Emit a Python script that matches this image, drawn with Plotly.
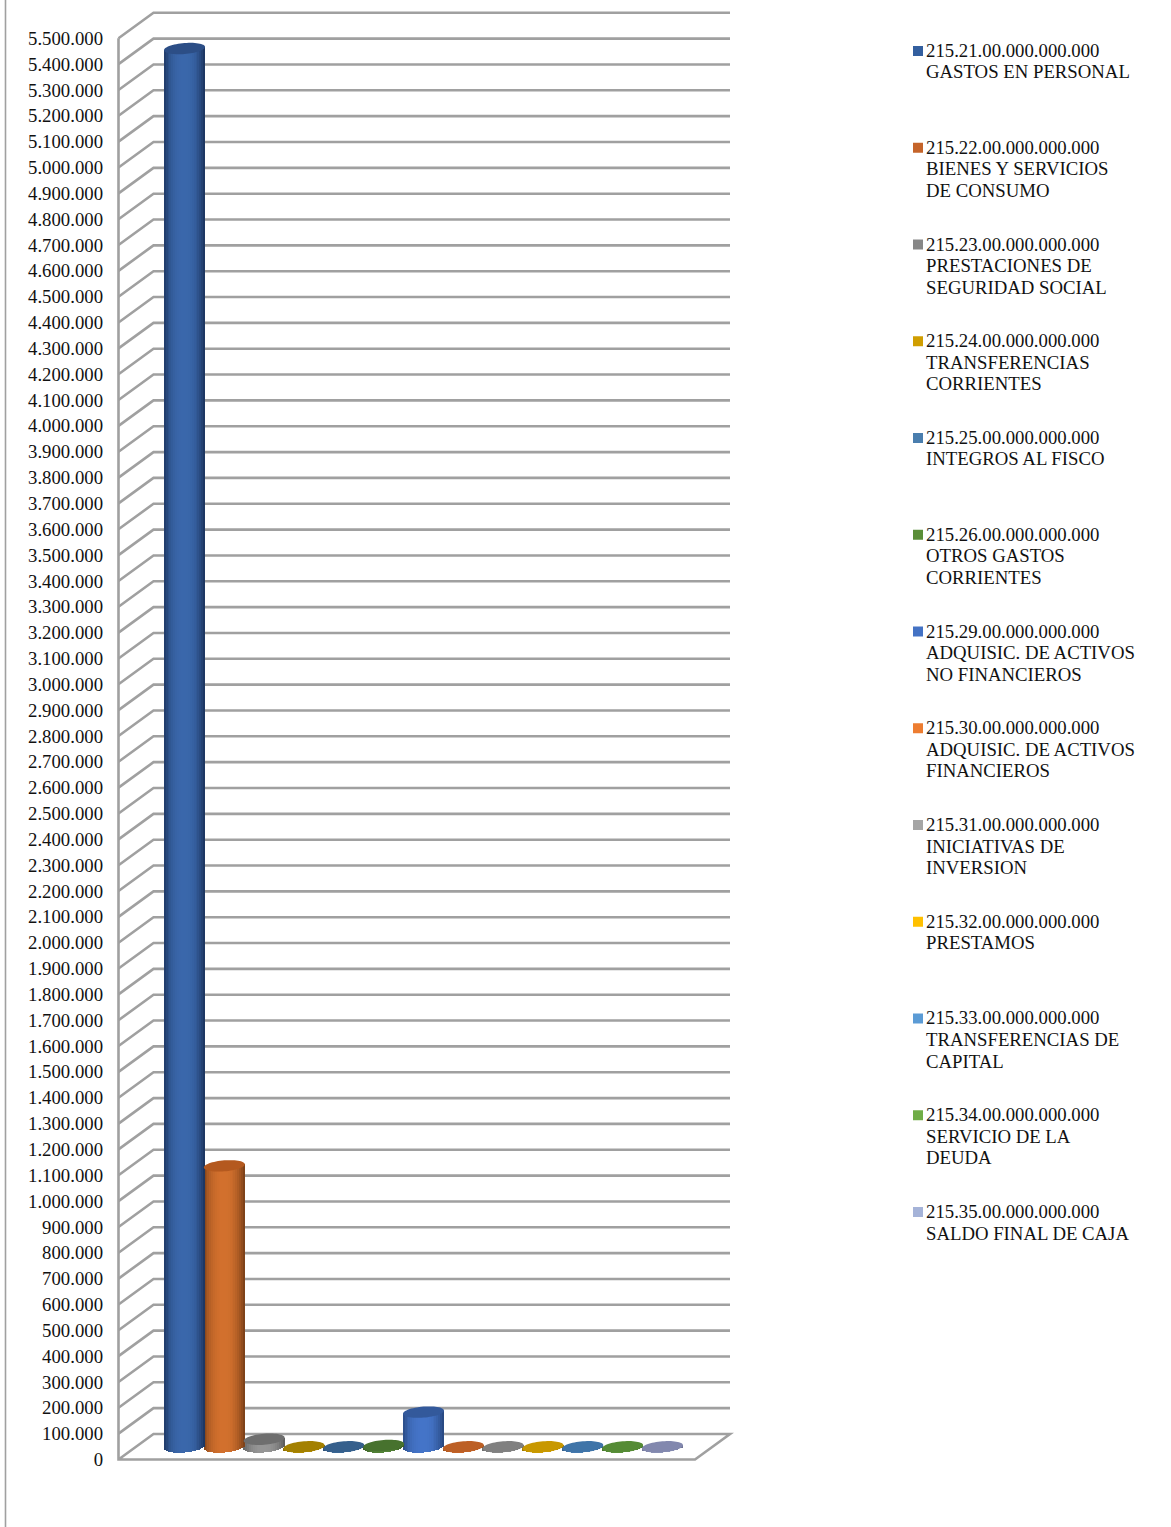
import plotly.graph_objects as go
import numpy as np

# ---- data ----
codes = ["215.21.00.000.000.000", "215.22.00.000.000.000", "215.23.00.000.000.000",
         "215.24.00.000.000.000", "215.25.00.000.000.000", "215.26.00.000.000.000",
         "215.29.00.000.000.000", "215.30.00.000.000.000", "215.31.00.000.000.000",
         "215.32.00.000.000.000", "215.33.00.000.000.000", "215.34.00.000.000.000",
         "215.35.00.000.000.000"]
label_lines = [["GASTOS EN PERSONAL"], ["BIENES Y SERVICIOS", "DE CONSUMO"],
               ["PRESTACIONES DE", "SEGURIDAD SOCIAL"], ["TRANSFERENCIAS", "CORRIENTES"],
               ["INTEGROS AL FISCO"], ["OTROS GASTOS", "CORRIENTES"],
               ["ADQUISIC. DE ACTIVOS", "NO FINANCIEROS"], ["ADQUISIC. DE ACTIVOS", "FINANCIEROS"],
               ["INICIATIVAS DE", "INVERSION"], ["PRESTAMOS"],
               ["TRANSFERENCIAS DE", "CAPITAL"], ["SERVICIO DE LA", "DEUDA"],
               ["SALDO FINAL DE CAJA"]]
values = [5412000, 1088000, 30000, 800, 800, 6000, 135000, 800, 800, 800, 800, 800, 800]
tick_values = list(range(0, 5600000, 100000))
tick_labels = [f"{v:,}".replace(",", ".") for v in tick_values]

# ---- style ----
legend_colors = ["#335F9F", "#C5642A", "#878787", "#D09E00", "#4A7EAE", "#5A8E38", "#4472C4",
                 "#ED7D31", "#A5A5A5", "#FFC000", "#5B9BD5", "#70AD47", "#A5B3D8"]
top_colors = ["#2C4E86", "#B4591F", "#6E6E6E", "#A38000", "#355F8C", "#47722E", "#33599B",
              "#BC5F25", "#808080", "#C89800", "#3F74A8", "#558B35", "#8288AE"]
center_colors = ["#3A67AB", "#D2702D", "#969696", "#B89000", "#3E6E9E", "#528236", "#4474C8",
                 "#D06828", "#8C8C8C", "#D0A000", "#4A80B8", "#5E9640", "#9098BC"]
edge_colors = ["#1C3560", "#7C4018", "#5C5C5C", "#806400", "#2A4A6C", "#385A24", "#284880",
               "#8A4A1C", "#666666", "#907000", "#305880", "#406C28", "#6A6E90"]
GRID = "#A0A0A0"
FONT = "Liberation Serif"
FS = 18.75

W, H = 1171, 1527
L, R, T, B = 108, 736, 6, 1466          # plot area in page pixels
Y0, PX100K = 1459.5, 25.84              # page y of value 0, px per 100 000
X0, PXCAT = 184.5, 39.83                # page x of the first category, px per category
DX_PX, DY_PX = 35, 25.5                 # depth of the box
RX_PX, RY_PX = 20.5, 5.5                # cylinder radii
TILT_PX = 1.6                           # rise of the right side of each ellipse
BASE_PX = 12.5                          # how far back the bars stand


def dy(px):
    return px / PX100K * 100000


def dx(px):
    return px / PXCAT


def xpix(px):
    return (px - X0) / PXCAT


def hex2rgb(c):
    return np.array([int(c[i:i + 2], 16) for i in (1, 3, 5)], float)


def mix(a, b, t):
    c = hex2rgb(a) * (1 - t) + hex2rgb(b) * t
    return "rgb(%d,%d,%d)" % tuple(c.round())


shapes = []
front_l, front_r = xpix(118.5), xpix(695)
back_l, back_r = xpix(118.5 + DX_PX), xpix(730)
D = dy(DY_PX)
line = dict(color=GRID, width=2.6)
for v in tick_values[1:]:
    shapes.append(dict(type="path", layer="below", xref="x", yref="y", line=line,
                       path=f"M{front_l},{v} L{back_l},{v + D} L{back_r},{v + D}"))
top = tick_values[-1]
shapes.append(dict(type="path", layer="below", xref="x", yref="y", line=line,
                   path=f"M{front_l},{top} L{front_l},0 L{front_r},0 L{back_r},{D} L{back_l},{D} L{front_l},0"))

# cylinders: vertical colour columns through the bar trace
base = dy(BASE_PX)
ry = dy(RY_PX)
rx = dx(RX_PX)
tilt = dy(TILT_PX)
N = 22
u_edges = np.linspace(-1, 1, N + 1)
traces = []
idx = np.arange(len(values))
for j in range(N):
    u = (u_edges[j] + u_edges[j + 1]) / 2
    sag = ry * np.sqrt(max(0.0, 1 - u * u))
    low = base - sag + tilt * u
    t = abs(u + 0.03) ** 2.6
    traces.append(go.Bar(
        x=idx + u * rx, y=[v + sag for v in values], base=low,
        width=2 * rx / N * 1.2,
        marker=dict(color=[mix(c, e, min(t, 1)) for c, e in zip(center_colors, edge_colors)],
                    line=dict(width=0)),
        hoverinfo="skip", showlegend=False))

angles = np.linspace(0, 2 * np.pi, 60, endpoint=False)
for i, (v, c) in enumerate(zip(values, top_colors)):
    xs = i + rx * np.cos(angles)
    ys = base + v + ry * np.sin(angles) + tilt * np.cos(angles)
    path = "M" + " L".join(f"{a:.4f},{b:.1f}" for a, b in zip(xs, ys)) + " Z"
    shapes.append(dict(type="path", layer="above", xref="x", yref="y", fillcolor=c,
                       line=dict(width=0), path=path))


# legend, placed in page pixels
def px(x):
    return (x - L) / (R - L)


def py(y):
    return (B - y) / (B - T)


annotations = []
ROW0, ROW_STEP, LINE_STEP = 51, 96.75, 21.5
for i, (code, lines, c) in enumerate(zip(codes, label_lines, legend_colors)):
    y = ROW0 + ROW_STEP * i
    shapes.append(dict(type="rect", xref="paper", yref="paper", fillcolor=c, line=dict(width=0),
                       x0=px(913), x1=px(923), y0=py(y + 5), y1=py(y - 5)))
    for k, text in enumerate([code] + lines):
        annotations.append(dict(xref="paper", yref="paper", x=px(926), y=py(y - 0.5 + k * LINE_STEP),
                                xanchor="left", yanchor="middle", text=text, showarrow=False,
                                xshift=-2, font=dict(family=FONT, size=FS, color="#111111")))

# page-edge rule
shapes.append(dict(type="line", xref="paper", yref="paper", x0=px(5.5), x1=px(5.5), y0=py(0), y1=py(H),
                   line=dict(color="#A0A0A0", width=1.6)))

fig = go.Figure(traces)
fig.update_layout(
    width=W, height=H, autosize=False,
    margin=dict(l=L, r=W - R, t=T, b=H - B, pad=0),
    paper_bgcolor="white", plot_bgcolor="white",
    barmode="overlay", bargap=0, showlegend=False,
    shapes=shapes, annotations=annotations,
    xaxis=dict(range=[xpix(L), xpix(R)], visible=False, fixedrange=True),
    yaxis=dict(range=[(Y0 - B) / PX100K * 100000, (Y0 - T) / PX100K * 100000],
               tickmode="array", tickvals=tick_values, ticktext=tick_labels,
               showgrid=False, zeroline=False, showline=False,
               ticks="", ticklabelstandoff=4,
               tickfont=dict(family=FONT, size=FS, color="#111111"), fixedrange=True),
)
fig.write_html("out.html", config=dict(displayModeBar=False),
               post_script="document.body.style.margin='0';document.body.style.overflow='hidden';")
